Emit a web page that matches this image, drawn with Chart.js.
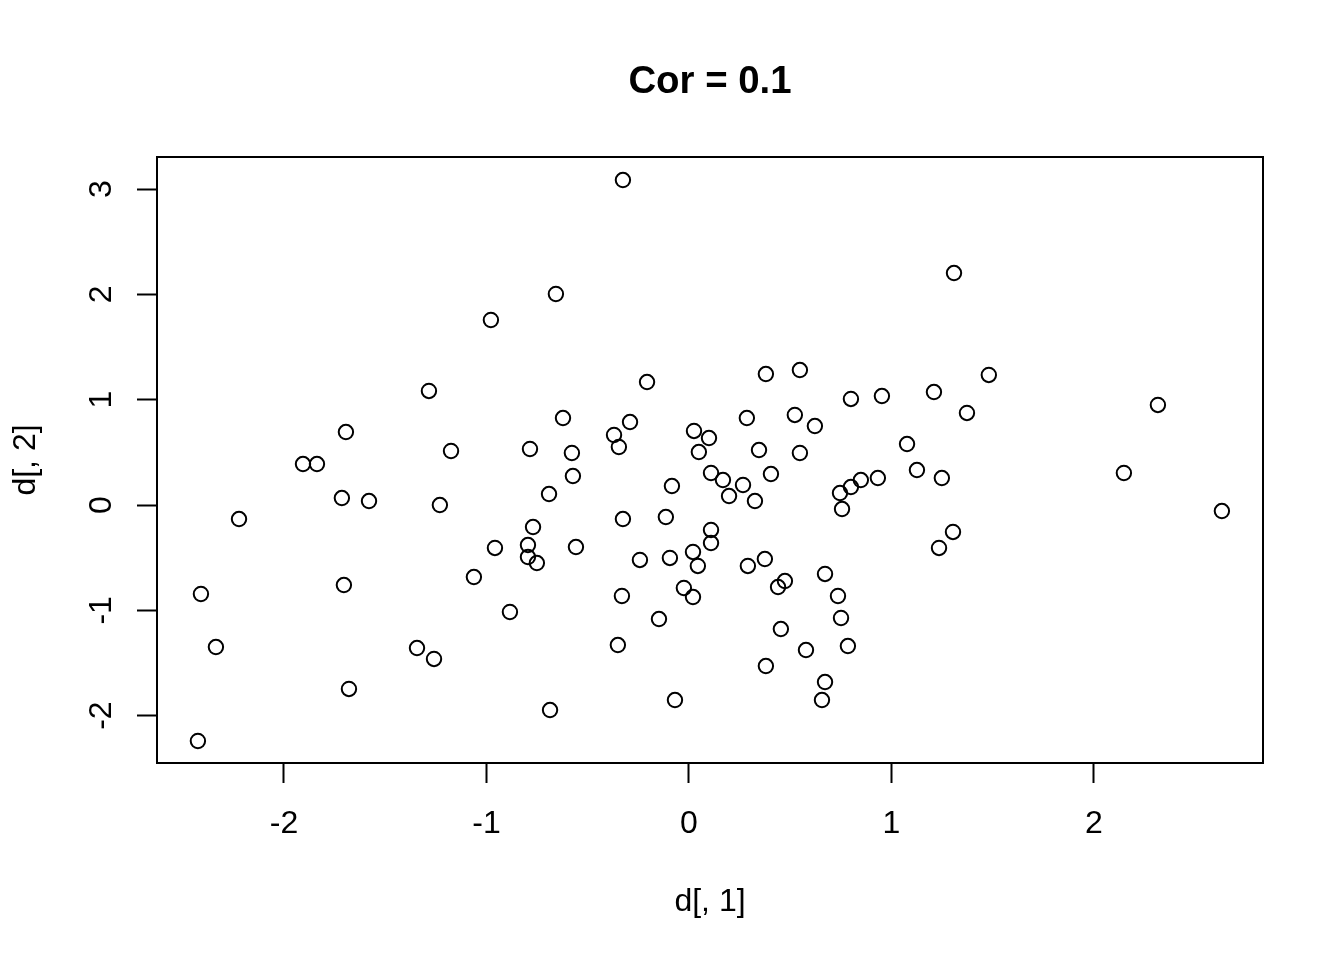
<!DOCTYPE html>
<html>
<head>
<meta charset="utf-8">
<script src="https://cdn.jsdelivr.net/npm/chart.js@4/dist/chart.umd.min.js"></script>
<style>
  html, body { margin: 0; padding: 0; background: #ffffff; }
  #wrap { width: 1344px; height: 960px; }
</style>
</head>
<body>
<div id="wrap"><canvas id="c" width="1344" height="960"></canvas></div>
<script>
// Data
const xValues = [-0.326, 1.309, -0.657, -0.978, 0.548, 0.380, 1.481, -0.207, -1.284, 1.210,
  0.953, 0.800, 2.316, 1.373, 0.523, -0.622, 0.286, -0.291, 0.622, -0.370,
  -1.694, 0.025, 0.099, 1.077, -0.346, -0.785, 0.346, -1.175, -0.578, 0.049,
  0.548, -1.906, -1.837, 1.126, 0.109, 0.405, 2.148, -0.573, 0.168, 0.849,
  0.933, 1.249, 0.267, 0.800, -0.084, 0.746, -0.691, 0.198, -1.714, -1.580,
  0.326, -1.230, 2.632, 0.756, -2.222, -0.114, -0.326, -0.770, 0.109, 1.304,
  0.109, -0.795, -0.958, -0.558, 1.235, 0.020, -0.242, -0.094, 0.375, -0.795,
  -0.751, 0.044, 0.291, 0.672, -1.062, 0.474, 0.440, -0.025, -1.704, -2.410,
  0.736, -0.331, 0.020, -0.884, 0.751, -0.148, 0.454, -0.351, -2.336, -1.343,
  0.578, 0.785, -1.259, 0.380, 0.672, -1.679, -0.069, 0.657, -0.686, -2.425];
const yValues = [3.086, 2.203, 2.004, 1.757, 1.282, 1.244, 1.235, 1.168, 1.083, 1.073,
  1.035, 1.007, 0.950, 0.874, 0.855, 0.826, 0.826, 0.788, 0.750, 0.665,
  0.693, 0.703, 0.636, 0.579, 0.551, 0.532, 0.522, 0.513, 0.494, 0.503,
  0.494, 0.389, 0.389, 0.332, 0.304, 0.294, 0.304, 0.275, 0.237, 0.237,
  0.256, 0.256, 0.190, 0.171, 0.180, 0.114, 0.104, 0.085, 0.066, 0.038,
  0.038, 0.000, -0.057, -0.038, -0.133, -0.114, -0.133, -0.209, -0.237, -0.256,
  -0.361, -0.380, -0.408, -0.399, -0.408, -0.446, -0.522, -0.503, -0.513, -0.494,
  -0.551, -0.579, -0.579, -0.655, -0.684, -0.722, -0.779, -0.788, -0.760, -0.845,
  -0.864, -0.864, -0.874, -1.016, -1.073, -1.083, -1.178, -1.330, -1.349, -1.358,
  -1.377, -1.339, -1.462, -1.529, -1.681, -1.747, -1.852, -1.852, -1.947, -2.241];
const xTicks = [-2, -1, 0, 1, 2];
const yTicks = [-2, -1, 0, 1, 2, 3];
const titleText = "Cor = 0.1";
const xLabel = "d[, 1]";
const yLabel = "d[, 2]";

const points = xValues.map((x, i) => ({ x: x, y: yValues[i] }));
const FONT = "'Liberation Sans', Arial, Helvetica, sans-serif";

const decorPlugin = {
  id: 'decor',
  afterDraw(chart) {
    const ctx = chart.ctx;
    const a = chart.chartArea;
    const ys = chart.scales.y;
    ctx.save();
    // box
    ctx.strokeStyle = '#000';
    ctx.lineWidth = 2;
    ctx.strokeRect(a.left, a.top, a.right - a.left, a.bottom - a.top);
    // y tick labels (rotated, like R las=0)
    ctx.fillStyle = '#000';
    ctx.font = "32px " + FONT;
    ctx.textAlign = 'center';
    ctx.textBaseline = 'alphabetic';
    ys.ticks.forEach(t => {
      const py = ys.getPixelForValue(t.value);
      ctx.save();
      ctx.translate(111, py);
      ctx.rotate(-Math.PI / 2);
      ctx.fillText(String(t.value), 0, 0);
      ctx.restore();
    });
    // title
    const cx = (a.left + a.right) / 2;
    ctx.font = "bold 38.4px " + FONT;
    ctx.fillText(titleText, cx, 93);
    // x axis label
    ctx.font = "32px " + FONT;
    ctx.fillText(xLabel, cx, 911);
    // y axis label
    ctx.save();
    ctx.translate(35, (a.top + a.bottom) / 2);
    ctx.rotate(-Math.PI / 2);
    ctx.fillText(yLabel, 0, 0);
    ctx.restore();
    ctx.restore();
  }
};

new Chart(document.getElementById('c'), {
  type: 'scatter',
  data: {
    datasets: [{
      data: points,
      pointStyle: 'circle',
      pointRadius: 7.2,
      pointHoverRadius: 7.2,
      pointBorderWidth: 2,
      pointBorderColor: '#000',
      pointBackgroundColor: 'rgba(0,0,0,0)',
      showLine: false
    }]
  },
  options: {
    responsive: false,
    animation: false,
    devicePixelRatio: 1,
    layout: { padding: { top: 157, right: 81, left: 0, bottom: 0 } },
    plugins: { legend: { display: false }, title: { display: false }, tooltip: { enabled: false } },
    scales: {
      x: {
        type: 'linear',
        min: -2.627, max: 2.835,
        afterBuildTicks: s => { s.ticks = xTicks.map(v => ({ value: v })); },
        afterFit: s => { s.height = 197; },
        border: { display: true, color: '#000', width: 2 },
        grid: { drawOnChartArea: false, drawTicks: true, tickLength: 20, tickWidth: 2, tickColor: '#000' },
        ticks: {
          color: '#000', padding: 22, maxRotation: 0, autoSkip: false,
          font: { size: 32, family: FONT },
          callback: v => String(v)
        }
      },
      y: {
        type: 'linear',
        min: -2.45, max: 3.305,
        afterBuildTicks: s => { s.ticks = yTicks.map(v => ({ value: v })); },
        afterFit: s => { s.width = 157; },
        border: { display: true, color: '#000', width: 2 },
        grid: { drawOnChartArea: false, drawTicks: true, tickLength: 20, tickWidth: 2, tickColor: '#000' },
        ticks: { display: false }
      }
    }
  },
  plugins: [decorPlugin]
});
</script>
</body>
</html>
